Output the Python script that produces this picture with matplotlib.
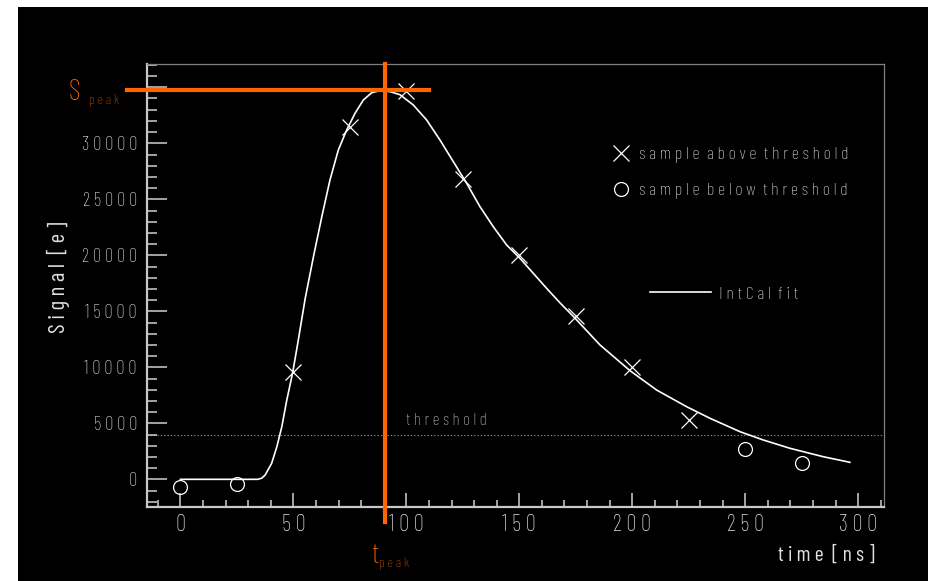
import matplotlib
matplotlib.use("Agg")
import matplotlib.pyplot as plt
from matplotlib.ticker import MultipleLocator, FuncFormatter

# samples
above_t = [50, 75, 100, 125, 150, 175, 200, 225]
above_y = [9600, 31500, 34650, 26800, 20000, 14600, 10000, 5300]
below_t = [0, 25, 250, 275]
below_y = [-700, -400, 2700, 1450]

# IntCal fit curve
fit_t = [0, 34.2, 36.0, 37.5, 40.4, 42.7, 44.9, 47.1, 49.7, 52.2, 55.2, 58.9,
         62.6, 66.2, 69.9, 73.6, 77.3, 81.0, 84.7, 88.4, 92.8, 97.2, 103.1, 109.0,
         114.9, 120.8, 126.7, 132.6, 138.5, 144.4, 150.3, 156.2, 162.1, 168.0,
         173.9, 185.7, 199.0, 210.8, 224.1, 234.4, 247.7, 258.0, 269.8, 284.5, 296.3]
fit_y = [0, 0, 100, 380, 1430, 2910, 4700, 7080, 9520, 12440, 16100, 19880,
         23450, 26720, 29400, 31190, 32680, 33870, 34520, 34700, 34610, 34340, 33420, 32080,
         30290, 28360, 26430, 24340, 22550, 20920, 19730, 18390, 17050, 15760,
         14550, 12000, 9700, 7970, 6480, 5450, 4250, 3510, 2770, 2020, 1520]

threshold = 4000
t_peak = 90.6
s_peak = 34760

ORANGE = "#ff6600"
DARK_ORANGE = "#cc5200"
plt.rcParams["font.family"] = ["Barlow Condensed", "Liberation Sans Narrow", "DejaVu Sans"]
plt.rcParams["font.weight"] = "light"

TS = "\u2009"  # thin space between letters


def spaced(s, gap=TS):
    return "  ".join(gap.join(w) for w in s.split(" "))


W, H = 929, 581
fig = plt.figure(figsize=(W / 100, H / 100), dpi=100, facecolor="white")
# black canvas (white strip on top and left like the original capture)
fig.patches.append(plt.Rectangle((18 / W, 0), 1 - 18 / W, 1 - 7 / H,
                                 transform=fig.transFigure, facecolor="black",
                                 edgecolor="none", zorder=-10))

ax = fig.add_axes([146.7 / W, 74 / H, (884 - 146.7) / W, (507 - 64) / H])
ax.set_facecolor("black")
ax.set_xlim(-14.9, 311.4)
ax.set_ylim(-2470, 37080)

for side in ["left", "bottom"]:
    ax.spines[side].set_color("#c8c8c8")
    ax.spines[side].set_linewidth(1.6)
for side in ["top", "right"]:
    ax.spines[side].set_color("#808080")
    ax.spines[side].set_linewidth(0.9)

ax.xaxis.set_major_locator(MultipleLocator(50))
ax.xaxis.set_minor_locator(MultipleLocator(10))
ax.yaxis.set_major_locator(MultipleLocator(5000))
ax.yaxis.set_minor_locator(MultipleLocator(1000))
ax.xaxis.set_major_formatter(FuncFormatter(lambda v, p: spaced(str(int(round(v))))))
ax.yaxis.set_major_formatter(FuncFormatter(
    lambda v, p: "" if v > 32000 else spaced(str(int(round(v))))))

ax.tick_params(axis="y", which="major", direction="in", length=14.4, width=1.1,
               color="#d0d0d0", labelcolor="#e0e0e0", labelsize=13.5, pad=7)
ax.tick_params(axis="y", which="minor", direction="in", length=7.2, width=1.1,
               color="#d0d0d0")
ax.tick_params(axis="x", which="major", direction="in", length=10, width=1.1,
               color="#d0d0d0", labelcolor="#e0e0e0", labelsize=16.5, pad=5)
ax.tick_params(axis="x", which="minor", direction="in", length=5, width=1.1,
               color="#d0d0d0")

# threshold
ax.axhline(threshold, color="#8c8c8c", lw=0.8, ls=(0, (1.2, 1.8)), zorder=1)
ax.text(100, threshold + 450, spaced("threshold"), color="#c0c0c0", fontsize=12.5,
        ha="left", va="bottom")

# fit and samples
fit_line, = ax.plot(fit_t, fit_y, color="white", lw=1.2, zorder=3,
                    label=spaced("IntCal fit"))
cross, = ax.plot(above_t, above_y, ls="none", marker="x", ms=11, mew=0.9,
                 color="white", zorder=4, label=spaced("sample above threshold"))
circ, = ax.plot(below_t, below_y, ls="none", marker="o", ms=10, mew=0.9,
                mfc="none", mec="white", zorder=4, label=spaced("sample below threshold"))

# peak markers
ax.plot([-23.6, 110], [s_peak, s_peak], color=ORANGE, lw=3, clip_on=False, zorder=5)
ax.plot([t_peak, t_peak], [-3790, 37060], color=ORANGE, lw=3, clip_on=False, zorder=5)

fig.text(68.5 / W, 1 - 99.5 / H, "S", color=ORANGE, fontsize=21, ha="left", va="baseline")
fig.text(89 / W, 1 - 104 / H, spaced("peak"), color=DARK_ORANGE, fontsize=10,
         ha="left", va="baseline")
fig.text(371 / W, 1 - 563 / H, "t", color=ORANGE, fontsize=21, ha="left", va="baseline")
fig.text(379.5 / W, 1 - 567.5 / H, spaced("peak"), color=DARK_ORANGE, fontsize=10,
         ha="left", va="baseline")

# axis titles
ax.set_ylabel(spaced("Signal [e]", " "), color="#e0e0e0", fontsize=16.5)
ax.yaxis.set_label_coords((58.7 - 146.7) / 737.3, (507 - 277.5) / 443)
ax.yaxis.label.set_va("center")
ax.set_xlabel(spaced("time [ns]"), color="#e0e0e0", fontsize=15.5)
ax.xaxis.set_label_coords((875 - 146.7) / 737.3, (507 - 555) / 443)
ax.xaxis.label.set_ha("right")
ax.xaxis.label.set_va("center")

# legends
leg1 = ax.legend(handles=[cross, circ], loc="upper left",
                 bbox_to_anchor=(611 / W, 1 - 146.5 / H), bbox_transform=fig.transFigure,
                 frameon=False, fontsize=13, handlelength=1.15, handletextpad=0.42,
                 labelspacing=1.07, borderpad=0, borderaxespad=0, labelcolor="#e0e0e0")
ax.add_artist(leg1)
leg2 = ax.legend(handles=[fit_line], loc="upper left",
                 bbox_to_anchor=(650 / W, 1 - 286 / H), bbox_transform=fig.transFigure,
                 frameon=False, fontsize=13, handlelength=3.4, handletextpad=0.4,
                 borderpad=0, borderaxespad=0, labelcolor="#e0e0e0")

fig.savefig("out.png", dpi=100, facecolor=fig.get_facecolor())
